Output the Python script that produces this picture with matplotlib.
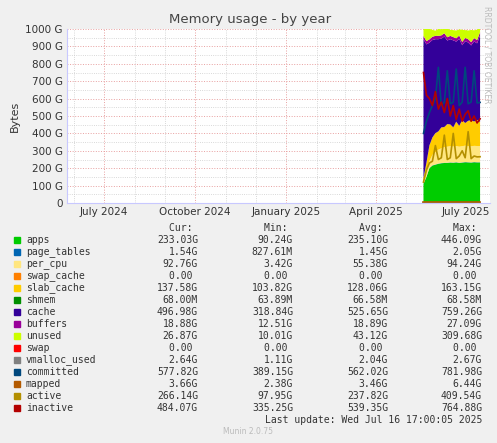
import matplotlib
matplotlib.use("Agg")
import matplotlib.pyplot as plt
import matplotlib.dates as mdates
import numpy as np
import datetime as dt

# one sample every 3 days from mid May 2025 to mid July 2025 (values in GB)
start = dt.datetime(2025, 5, 19)
dates = [start + dt.timedelta(days=3 * i) for i in range(20)]

apps = [110, 150, 200, 215, 220, 225, 228, 230, 230, 232, 231, 233, 230, 232, 234, 233, 232, 234, 233, 233]
page_tables = [1.5] * 20
per_cpu = [10, 20, 40, 60, 70, 80, 85, 90, 92, 93, 92, 93, 92, 93, 94, 93, 92, 93, 93, 93]
swap_cache = [0] * 20
slab_cache = [20, 60, 90, 100, 110, 105, 120, 115, 130, 125, 110, 140, 120, 150, 130, 145, 150, 140, 150, 138]
shmem = [0.068] * 20
cache = [800, 680, 590, 560, 540, 530, 510, 520, 480, 490, 500, 460, 500, 430, 470, 450, 430, 460, 440, 497]
buffers = [19] * 20
unused = [40, 70, 60, 40, 30, 40, 35, 25, 50, 35, 40, 45, 35, 70, 45, 50, 70, 45, 60, 27]
swap = [0] * 20

vmalloc_used = [2.6] * 20
committed = [400, 470, 520, 560, 600, 780, 560, 580, 760, 570, 580, 770, 560, 580, 780, 570, 580, 760, 575, 578]
mapped = [3.7] * 20
active = [120, 190, 230, 240, 330, 250, 260, 390, 250, 260, 400, 255, 270, 300, 260, 410, 255, 270, 265, 266]
inactive = [750, 620, 600, 560, 640, 540, 580, 520, 600, 500, 560, 480, 540, 470, 510, 530, 470, 500, 460, 484]

stack_vals = [apps, page_tables, per_cpu, swap_cache, slab_cache, shmem, cache, buffers, unused, swap]
stack_cols = ["#00cc00", "#0066b3", "#ffe680", "#ff8000", "#ffcc00", "#008f00",
              "#330099", "#990099", "#ccff00", "#ff0000"]
line_vals = [vmalloc_used, committed, mapped, active, inactive]
line_cols = ["#808080", "#00487d", "#b35a00", "#b38f00", "#b30000"]

legend_rows = [
    ("apps", "233.03G", "90.24G", "235.10G", "446.09G"),
    ("page_tables", "1.54G", "827.61M", "1.45G", "2.05G"),
    ("per_cpu", "92.76G", "3.42G", "55.38G", "94.24G"),
    ("swap_cache", "0.00 ", "0.00 ", "0.00 ", "0.00 "),
    ("slab_cache", "137.58G", "103.82G", "128.06G", "163.15G"),
    ("shmem", "68.00M", "63.89M", "66.58M", "68.58M"),
    ("cache", "496.98G", "318.84G", "525.65G", "759.26G"),
    ("buffers", "18.88G", "12.51G", "18.89G", "27.09G"),
    ("unused", "26.87G", "10.01G", "43.12G", "309.68G"),
    ("swap", "0.00 ", "0.00 ", "0.00 ", "0.00 "),
    ("vmalloc_used", "2.64G", "1.11G", "2.04G", "2.67G"),
    ("committed", "577.82G", "389.15G", "562.02G", "781.98G"),
    ("mapped", "3.66G", "2.38G", "3.46G", "6.44G"),
    ("active", "266.14G", "97.95G", "237.82G", "409.54G"),
    ("inactive", "484.07G", "335.25G", "539.35G", "764.88G"),
]

W, H = 497, 443
fig = plt.figure(figsize=(W / 100, H / 100), dpi=100, facecolor="#f0f0f0")
ax = fig.add_axes([67 / W, 1 - 203 / H, 423 / W, 174 / H])
ax.set_facecolor("white")

ax.stackplot(dates, *stack_vals, colors=stack_cols, linewidth=0)
for v, c in zip(line_vals, line_cols):
    ax.plot(dates, v, color=c, linewidth=1.2)

ax.set_xlim(dt.datetime(2024, 5, 25), dt.datetime(2025, 7, 25))
ax.set_ylim(0, 1000)
ax.set_yticks(np.arange(0, 1001, 100))
ax.set_yticklabels([f"{v} G" if v else "0" for v in range(0, 1001, 100)])
ax.set_yticks(np.arange(0, 1001, 50), minor=True)
ax.xaxis.set_major_locator(mdates.MonthLocator(bymonth=[1, 4, 7, 10]))
ax.xaxis.set_major_formatter(mdates.DateFormatter("%B %Y"))
ax.xaxis.set_minor_locator(mdates.MonthLocator())
ax.grid(which="minor", color="#cccccc", linestyle=":", linewidth=0.6)
ax.grid(which="major", color="#e8a0a0", linestyle=":", linewidth=0.7)
ax.set_axisbelow(True)
ax.tick_params(which="both", labelsize=7.5, colors="#333333", length=0, pad=3)
for s in ["top", "right"]:
    ax.spines[s].set_visible(False)
ax.spines["left"].set_color("#c8c8ff")
ax.spines["bottom"].set_color("#c8c8ff")
ax.set_ylabel("Bytes", fontsize=8, color="#333333")
fig.text(250 / W, 1 - 19 / H, "Memory usage - by year", ha="center", va="center",
         fontsize=9.5, color="#444444")
fig.text(487 / W, 1 - 55 / H, "RRDTOOL / TOBI OETIKER", rotation=270, ha="center",
         va="center", fontsize=5.5, color="#bbbbbb")

mono = "DejaVu Sans Mono"
fs = 7
cols_x = [198, 293, 388, 482]
for x, h in zip(cols_x, ["Cur: ", "Min: ", "Avg: ", "Max: "]):
    fig.text(x / W, 1 - 228 / H, h, ha="right", va="center", fontsize=fs,
             color="#333333", family=mono)
colors = stack_cols + line_cols
for i, row in enumerate(legend_rows):
    yy = 240 + i * 12
    fig.patches.append(plt.Rectangle((14 / W, 1 - (yy + 3) / H), 6 / W, 6 / H,
                                     transform=fig.transFigure, color=colors[i]))
    fig.text(26 / W, 1 - yy / H, row[0], ha="left", va="center", fontsize=fs,
             color="#333333", family=mono)
    for x, v in zip(cols_x, row[1:]):
        fig.text(x / W, 1 - yy / H, v, ha="right", va="center", fontsize=fs,
                 color="#333333", family=mono)
fig.text(482 / W, 1 - 420 / H, "Last update: Wed Jul 16 17:00:05 2025", ha="right",
         va="center", fontsize=fs, color="#333333", family=mono)
fig.text(248 / W, 1 - 432 / H, "Munin 2.0.75", ha="center", va="center", fontsize=5.5,
         color="#bbbbbb")

fig.savefig("out.png", dpi=100, facecolor=fig.get_facecolor())
